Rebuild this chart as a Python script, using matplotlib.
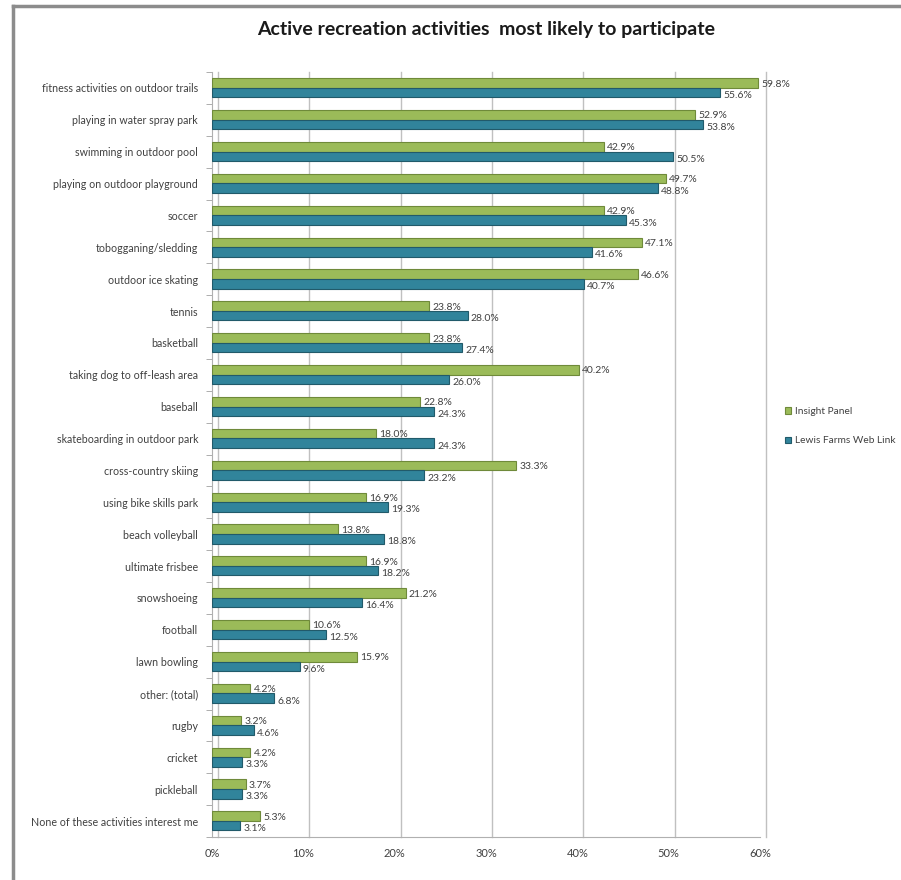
import numpy as np
import matplotlib
matplotlib.use("Agg")
import matplotlib.pyplot as plt
import matplotlib.transforms as mtransforms
from matplotlib.lines import Line2D

plt.rcParams['font.family'] = ['Lato', 'DejaVu Sans']

# data (percent)
activities = [
    "fitness activities on outdoor trails", "playing in water spray park",
    "swimming in outdoor pool", "playing on outdoor playground", "soccer",
    "tobogganing/sledding", "outdoor ice skating", "tennis", "basketball",
    "taking dog to off-leash area", "baseball", "skateboarding in outdoor park",
    "cross-country skiing", "using bike skills park", "beach volleyball",
    "ultimate frisbee", "snowshoeing", "football", "lawn bowling",
    "other: (total)", "rugby", "cricket", "pickleball",
    "None of these activities interest me",
]
insight_panel = [59.8, 52.9, 42.9, 49.7, 42.9, 47.1, 46.6, 23.8, 23.8, 40.2, 22.8, 18.0,
                 33.3, 16.9, 13.8, 16.9, 21.2, 10.6, 15.9, 4.2, 3.2, 4.2, 3.7, 5.3]
web_link = [55.6, 53.8, 50.5, 48.8, 45.3, 41.6, 40.7, 28.0, 27.4, 26.0, 24.3, 24.3,
            23.2, 19.3, 18.8, 18.2, 16.4, 12.5, 9.6, 6.8, 4.6, 3.3, 3.3, 3.1]
x_ticks = [0, 10, 20, 30, 40, 50, 60]

GREEN = "#9bbb59"
GREEN_EDGE = "#6f8a3a"
BLUE = "#31849b"
BLUE_EDGE = "#215a6a"
TXT = "#404040"

fig = plt.figure(figsize=(9.01, 8.8), dpi=100)
ax = fig.add_axes([212 / 901, 1 - 837 / 880, (760 - 212) / 901, (837 - 72) / 880])

y = np.arange(len(activities))
h = 0.3
ax.barh(y - 0.155, insight_panel, height=h, color=GREEN, edgecolor=GREEN_EDGE,
        linewidth=0.8, label="Insight Panel", zorder=3)
ax.barh(y + 0.145, web_link, height=h, color=BLUE, edgecolor=BLUE_EDGE,
        linewidth=0.8, label="Lewis Farms Web Link", zorder=3)

for i in range(len(activities)):
    ax.text(insight_panel[i] + 0.35, y[i] - 0.12, f"{insight_panel[i]:.1f}%",
            fontsize=7.5, color=TXT, va="center", ha="left", zorder=4)
    ax.text(web_link[i] + 0.35, y[i] + 0.24, f"{web_link[i]:.1f}%",
            fontsize=7.5, color=TXT, va="center", ha="left", zorder=4)

ax.set_xlim(0, 60)
ax.set_ylim(len(activities) - 0.5, -0.5)
ax.set_yticks(y)
ax.set_yticklabels(activities, fontsize=7.7, color=TXT)
ax.set_yticks(np.arange(-0.5, len(activities), 1), minor=True)
ax.tick_params(axis="y", which="major", length=0, pad=10)
ax.tick_params(axis="y", which="minor", length=4, color="#a0a0a0")
ax.set_xticks(x_ticks)
ax.set_xticklabels([f"{t}%" for t in x_ticks], fontsize=8, color=TXT)
ax.tick_params(axis="x", length=0, pad=8)

# back-wall gridlines, shifted right a little like the 3-D chart
shift = mtransforms.ScaledTranslation(6 / 100, 0, fig.dpi_scale_trans)
for t in x_ticks:
    ax.plot([t, t], [len(activities) - 0.5, -0.5], color="#c0c0c0", lw=1.0,
            transform=ax.transData + shift, zorder=1, clip_on=False)

for s in ["top", "right"]:
    ax.spines[s].set_visible(False)
ax.spines["left"].set_color("#b0b0b0")
ax.spines["bottom"].set_color("#b0b0b0")

fig.text(486 / 901, 1 - 30 / 880, "Active recreation activities  most likely to participate",
         ha="center", va="center", fontsize=14, fontweight="bold", color="#1a1a1a")

handles, labels = ax.get_legend_handles_labels()
fig.legend(handles, labels, loc="upper left", bbox_to_anchor=(781 / 901, 1 - 403 / 880),
           frameon=False, fontsize=7.3, handlelength=0.6, handleheight=0.6,
           handletextpad=0.35, labelspacing=2.0, labelcolor=TXT, borderaxespad=0)

# page border lines
fig.add_artist(Line2D([13 / 901, 1], [1 - 6 / 880, 1 - 6 / 880], color="#8c8c8c", lw=2.5,
                      transform=fig.transFigure))
fig.add_artist(Line2D([13 / 901, 13 / 901], [0, 1 - 6 / 880], color="#8c8c8c", lw=2.5,
                      transform=fig.transFigure))

fig.savefig("out.png", dpi=100)
